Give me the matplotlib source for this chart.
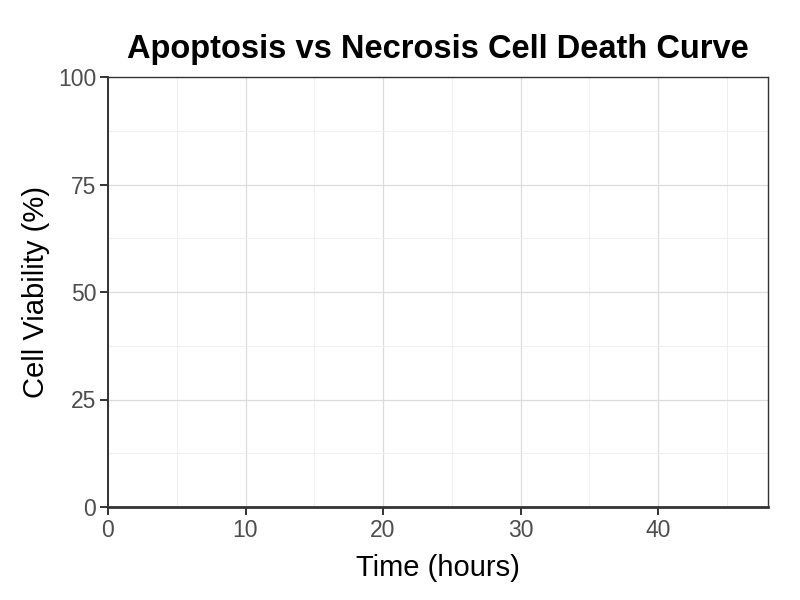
import matplotlib
matplotlib.use("Agg")
import matplotlib.pyplot as plt
from matplotlib.ticker import MultipleLocator

plt.rcParams['font.family'] = ['Liberation Sans', 'DejaVu Sans']

# Data (the reference chart shows no plotted series)
time_hours = []
apoptosis_viability = []
necrosis_viability = []
x_ticks = [0, 10, 20, 30, 40]
y_ticks = [0, 25, 50, 75, 100]

fig = plt.figure(figsize=(8, 6), dpi=100)
ax = fig.add_axes([108/800, 1 - 507/600, (768-108)/800, (507-77)/600])

ax.plot(time_hours, apoptosis_viability, color='#F8766D')
ax.plot(time_hours, necrosis_viability, color='#00BFC4')

ax.set_xlim(0, 48)
ax.set_ylim(0, 100)
ax.set_xticks(x_ticks)
ax.set_yticks(y_ticks)
ax.xaxis.set_minor_locator(MultipleLocator(5))
ax.yaxis.set_minor_locator(MultipleLocator(12.5))

ax.grid(which='major', color='#dcdcdc', linewidth=0.9)
ax.grid(which='minor', color='#ececec', linewidth=0.6)
ax.set_axisbelow(True)

for s in ['top', 'right']:
    ax.spines[s].set_color('#333333')
    ax.spines[s].set_linewidth(1.0)
ax.spines['left'].set_color('#333333')
ax.spines['left'].set_linewidth(1.4)
ax.spines['bottom'].set_color('#333333')
ax.spines['bottom'].set_linewidth(2.0)

ax.tick_params(which='major', length=5.5, width=1.4, color='#333333',
               labelsize=16.5, labelcolor='#4d4d4d', pad=3)
ax.tick_params(which='minor', length=0)

ax.set_xlabel('Time (hours)', fontsize=21, color='black', labelpad=8.5)
ax.set_ylabel('Cell Viability (%)', fontsize=21, color='black', labelpad=6)
ax.set_title('Apoptosis vs Necrosis Cell Death Curve', fontsize=23.5,
             fontweight='bold', pad=14, x=(437.5-108)/660)

fig.savefig('out.png', dpi=100)
